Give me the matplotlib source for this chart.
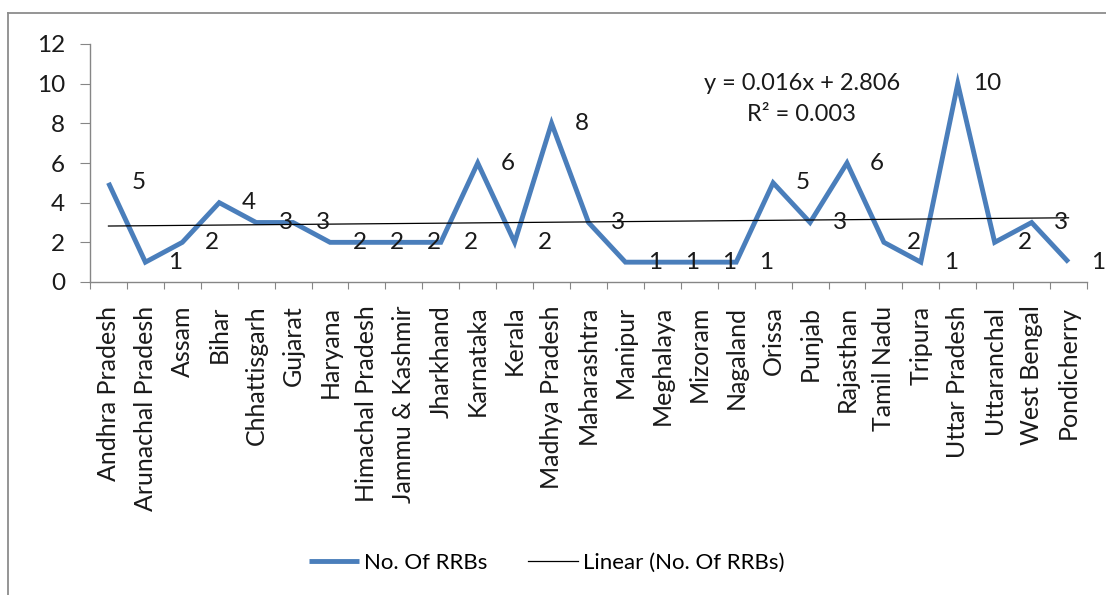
import matplotlib
matplotlib.use("Agg")
import matplotlib.pyplot as plt
from matplotlib.lines import Line2D
import numpy as np

states = ["Andhra Pradesh", "Arunachal Pradesh", "Assam", "Bihar", "Chhattisgarh",
          "Gujarat", "Haryana", "Himachal Pradesh", "Jammu & Kashmir", "Jharkhand",
          "Karnataka", "Kerala", "Madhya Pradesh", "Maharashtra", "Manipur",
          "Meghalaya", "Mizoram", "Nagaland", "Orissa", "Punjab", "Rajasthan",
          "Tamil Nadu", "Tripura", "Uttar Pradesh", "Uttaranchal", "West Bengal",
          "Pondicherry"]
rrbs = [5, 1, 2, 4, 3, 3, 2, 2, 2, 2, 6, 2, 8, 3, 1, 1, 1, 1, 5, 3, 6, 2, 1, 10, 2, 3, 1]
trend_slope = 0.016
trend_intercept = 2.806
trend_r2 = 0.003
yticks = [0, 2, 4, 6, 8, 10, 12]

plt.rcParams['font.family'] = ['Lato', 'DejaVu Sans']
W, H = 1106, 595
fig = plt.figure(figsize=(W / 100, H / 100), dpi=100)
fig.patch.set_facecolor("white")

text_color = "#1a1a1a"
axis_color = "#868686"

# chart frame edges (top and left)
frame_kw = dict(transform=fig.transFigure, color="#8c8c8c", linewidth=1.3)
fig.add_artist(Line2D([8 / W, 1.0], [1 - 13 / H, 1 - 13 / H], **frame_kw))
fig.add_artist(Line2D([8 / W, 8 / W], [0.0, 1 - 13 / H], **frame_kw))

ax = fig.add_axes([90 / W, 1 - 282 / H, (1087 - 90) / W, (282 - 44) / H])
n = len(rrbs)
x = np.arange(1, n + 1)
line_color = "#4A7EBB"
ax.plot(x, rrbs, color=line_color, linewidth=3.5, solid_joinstyle="miter",
        solid_capstyle="butt", label="No. Of RRBs", zorder=3)
ax.plot(x, trend_slope * x + trend_intercept, color="black", linewidth=0.9,
        label="Linear (No. Of RRBs)", zorder=4)

for xi, v in zip(x, rrbs):
    ax.annotate(str(v), (xi, v), xytext=(21.5, 0), textcoords="offset points",
                ha="center", va="center", fontsize=17.5, color=text_color,
                zorder=5, annotation_clip=False)

ax.text(0.714, 0.77, f"y = {trend_slope}x + {trend_intercept}\nR² = {trend_r2}",
        transform=ax.transAxes, ha="center", va="center", fontsize=17,
        color=text_color, linespacing=1.6)

ax.set_xlim(0.5, n + 0.5)
ax.set_ylim(0, 12)
ax.set_yticks(yticks)
ax.set_xticks(np.arange(0.5, n + 1, 1))
ax.set_xticklabels([])
ax.set_xticks(x, minor=True)
ax.set_xticklabels(states, minor=True, rotation=90, fontsize=18, color=text_color)
ax.tick_params(axis="x", which="major", length=5, color=axis_color, direction="out")
ax.tick_params(axis="x", which="minor", length=0, pad=17)
ax.tick_params(axis="y", length=7, color=axis_color, labelsize=17.5,
               labelcolor=text_color, pad=11)
for s in ["top", "right"]:
    ax.spines[s].set_visible(False)
for s in ["left", "bottom"]:
    ax.spines[s].set_color(axis_color)
    ax.spines[s].set_linewidth(1.0)

fig.legend(loc="center", bbox_to_anchor=(547 / W, 1 - 563 / H), ncol=2,
           frameon=False, fontsize=16, handlelength=2.25, handletextpad=0.22,
           columnspacing=1.85)

fig.savefig("out.png", dpi=100)
